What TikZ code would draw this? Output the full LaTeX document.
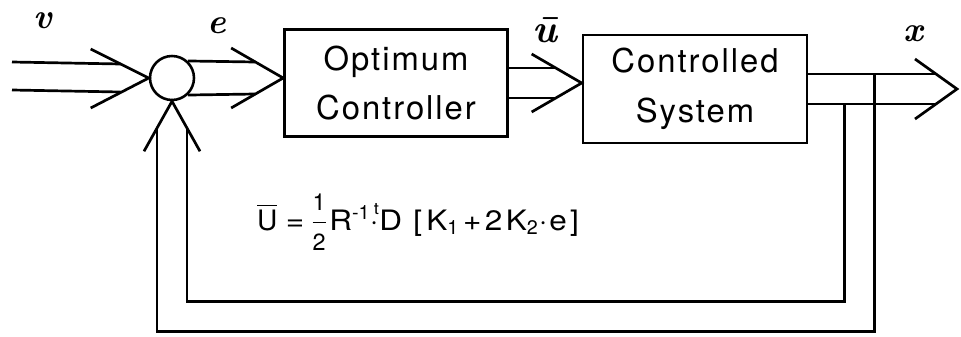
\documentclass[tikz,border=0pt]{standalone}
\usepackage{amsmath}
\usepackage{fontspec}
\setsansfont{TeX Gyre Heros}
\usetikzlibrary{calc}

\newcommand{\halfsf}{\dfrac{\textsf{\fontsize{20}{20}\selectfont 1}}{\textsf{\fontsize{20}{20}\selectfont 2}}}

\tikzset{
  blk/.style={draw, line width=2.3pt, align=center, inner sep=0pt,
    font=\sffamily\addfontfeature{LetterSpace=6}\fontsize{28}{42.5}\selectfont},
  sumc/.style={draw, circle, line width=2.2pt, minimum size=1.32cm, inner sep=0pt},
  sig/.style={line width=2.3pt},
  lbl/.style={font=\bfseries\itshape\fontsize{30}{30}\selectfont}
}

\begin{document}
\begin{tikzpicture}[x=0.03cm,y=-0.03cm]
  \useasboundingbox (0,0) rectangle (961,336);

  \node[sumc] (sum) at (172,78) {};
  \node[blk, minimum width=6.69cm, minimum height=3.21cm] (opt) at (396,83) {Optimum\\Controller};
  \node[blk, minimum width=6.72cm, minimum height=3.24cm] (sys) at (695,89) {Controlled\\System};

  \node[lbl] (vl) at (43,21) {v};
  \node[lbl] (el) at (217,26) {e};
  \node[lbl, font=\bfseries\itshape\fontsize{34}{34}\selectfont] (ul) at (545,30) {\={u}};
  \node[lbl] (xl) at (913,34) {x};

  \node[font=\sffamily\addfontfeature{FakeStretch=1.12}\fontsize{24}{26}\selectfont] (law) at (418,222)
    {$\overline{\textsf{U}}$\hspace{0.3em}=\hspace{0.25em}$\halfsf$\hspace{0.08em}R$^{\textsf{-1}}$\hspace{0.02em}$\cdot$\hspace{-0.18em}\raisebox{0.55em}{\fontsize{14}{14}\selectfont t}\hspace{0.02em}D\hspace{0.4em}[\hspace{0.15em}K$_{\textsf{1}}$\hspace{0.15em}+\hspace{0.12em}2\hspace{0.12em}K$_{\textsf{2}}$\hspace{0.05em}$\cdot$\hspace{0.05em}e\hspace{0.12em}]};

  \coordinate (vin) at (12,76);
  \draw[sig] ($(vin)+(0,-14)$) -- ($(sum.west)+(-28,-14)$);
  \draw[sig] ($(vin)+(0,14)$) -- ($(sum.west)+(-28,14)$);
  \draw[sig] ($(sum.west)+(-58,-29)$) -- (sum.west) -- ($(sum.west)+(-58,30)$);

  \coordinate (etip) at (sum -| opt.west);
  \draw[sig] (sum.47) -- ($(etip)+(-28,-16)$);
  \draw[sig] (sum.-47) -- ($(etip)+(-28,16)$);
  \draw[sig] ($(etip)+(-52,-30)$) -- (etip) -- ($(etip)+(-52,30)$);

  \coordinate (utip) at (opt.east -| sys.west);
  \draw[sig] ($(opt.east)+(0,-15)$) -- ($(utip)+(-26,-15)$);
  \draw[sig] ($(opt.east)+(0,15)$) -- ($(utip)+(-26,15)$);
  \draw[sig] ($(utip)+(-50,-29)$) -- (utip) -- ($(utip)+(-50,29)$);

  \coordinate (xtip) at (957,89);
  \draw[sig] ($(sys.east)+(0,-15)$) -- ($(xtip)+(-21,-15)$);
  \draw[sig] ($(sys.east)+(0,15)$) -- ($(xtip)+(-21,15)$);
  \draw[sig] ($(xtip)+(-42,-30)$) -- (xtip) -- ($(xtip)+(-42,30)$);

  \coordinate (fo) at ($(sys.east)+(66,-15)$);
  \coordinate (fi) at ($(sys.east)+(36,15)$);
  \coordinate (fbtip) at (sum.south);
  \draw[sig] (fo) |- ($(fbtip)+(-15,230)$) -- ($(fbtip)+(-15,27)$);
  \draw[sig] (fi) |- ($(fbtip)+(15,200)$) -- ($(fbtip)+(15,27)$);
  \draw[sig] ($(fbtip)+(-28,50)$) -- (fbtip) -- ($(fbtip)+(28,50)$);
\end{tikzpicture}
\end{document}
